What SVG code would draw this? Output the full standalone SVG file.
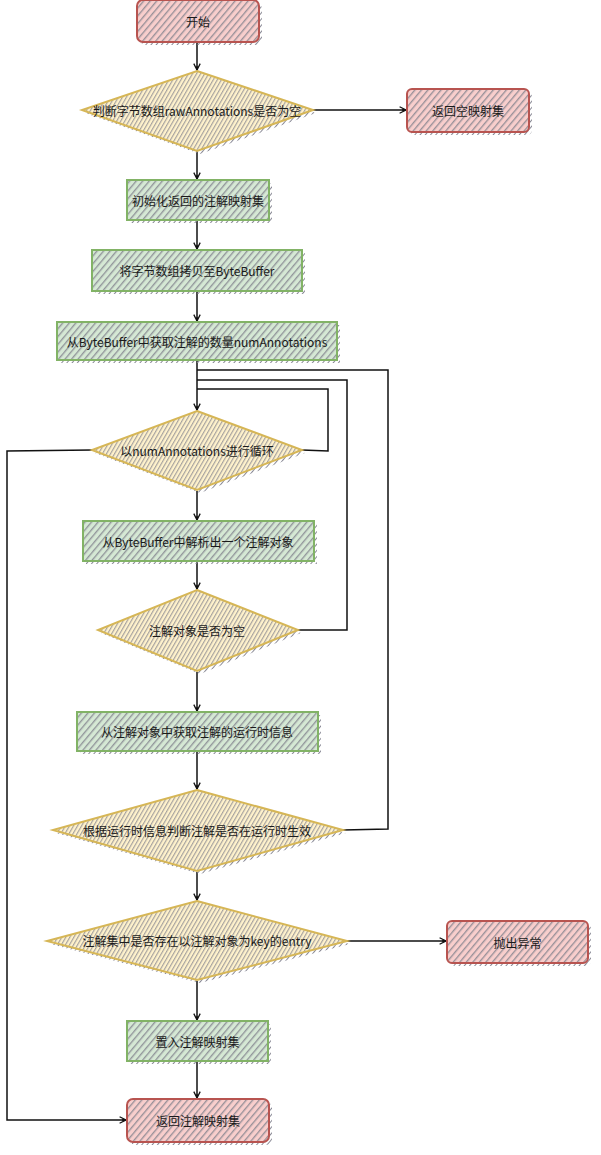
<svg xmlns="http://www.w3.org/2000/svg" width="601" height="1155" viewBox="0 0 601 1155">
<style>
text{font-family:"Noto Sans CJK SC","Liberation Sans",sans-serif;font-size:12px;fill:#1a1a1a;text-anchor:middle;dominant-baseline:central}
.red{fill:url(#hRed);stroke:#b85450;stroke-width:2}
.green{fill:url(#hGreen);stroke:#82b366;stroke-width:2}
.yellow{fill:url(#hYellow);stroke:#d6b656;stroke-width:2}
.shadow{fill:url(#hShadow);stroke:none}
.edge{fill:none;stroke:#111;stroke-width:1.5}
</style>
<defs>
<pattern id="hRed" width="5" height="5" patternUnits="userSpaceOnUse" patternTransform="rotate(40)">
<rect width="5" height="5" fill="#f8cecc"/><line x1="0.7" y1="0" x2="0.7" y2="5" stroke="#80808c" stroke-width="1.3" stroke-opacity="0.85"/></pattern>
<pattern id="hGreen" width="5" height="5" patternUnits="userSpaceOnUse" patternTransform="rotate(40)">
<rect width="5" height="5" fill="#d5e8d4"/><line x1="0.7" y1="0" x2="0.7" y2="5" stroke="#80808c" stroke-width="1.3" stroke-opacity="0.85"/></pattern>
<pattern id="hYellow" width="3.5" height="3.5" patternUnits="userSpaceOnUse" patternTransform="rotate(30)">
<rect width="3.5" height="3.5" fill="#fff2cc"/><line x1="0.6" y1="0" x2="0.6" y2="3.5" stroke="#80808c" stroke-width="1.1" stroke-opacity="0.75"/></pattern>
<pattern id="hShadow" width="4" height="4" patternUnits="userSpaceOnUse" patternTransform="rotate(40)">
<line x1="0.5" y1="0" x2="0.5" y2="4" stroke="#8a8a96" stroke-width="1"/></pattern>
<marker id="arr" viewBox="0 0 10 10" refX="9" refY="5" markerWidth="8" markerHeight="8" orient="auto-start-reverse" markerUnits="userSpaceOnUse">
<path d="M1,1 L9,5 L1,9 M9,5 L4,5" fill="none" stroke="#111" stroke-width="1.6"/></marker>
</defs>

<g id="connectors">
<path class="edge" marker-end="url(#arr)" d="M197,43 L197,70"/>
<path class="edge" marker-end="url(#arr)" d="M313,110 L406,110"/>
<path class="edge" marker-end="url(#arr)" d="M197,151 L197,179"/>
<path class="edge" marker-end="url(#arr)" d="M197,221 L197,249"/>
<path class="edge" marker-end="url(#arr)" d="M197,292 L197,321"/>
<path class="edge" marker-end="url(#arr)" d="M197,361 L197,410"/>
<path class="edge" d="M302,450 L328,451 L328,389 L197,389"/>
<path class="edge" d="M298,630 L347,630 L347,380 L197,380"/>
<path class="edge" d="M343,830 L388,829 L388,370 L197,370"/>
<path class="edge" marker-end="url(#arr)" d="M92,450 L7,451 L7,1120 L126,1120"/>
<path class="edge" marker-end="url(#arr)" d="M197,491 L197,520"/>
<path class="edge" marker-end="url(#arr)" d="M197,562 L197,589"/>
<path class="edge" marker-end="url(#arr)" d="M197,672 L197,711"/>
<path class="edge" marker-end="url(#arr)" d="M197,752 L197,789"/>
<path class="edge" marker-end="url(#arr)" d="M197,872 L197,900"/>
<path class="edge" marker-end="url(#arr)" d="M347,941 L446,941"/>
<path class="edge" marker-end="url(#arr)" d="M197,981 L197,1020"/>
<path class="edge" marker-end="url(#arr)" d="M197,1062 L197,1098"/>
</g>

<g id="start">
<rect class="shadow" x="140" y="3" width="122" height="42" rx="6"/>
<rect class="red" x="137" y="0" width="122" height="42" rx="6"/>
<text x="198" y="21">开始</text>
</g>

<g id="check-empty">
<polygon class="shadow" points="200,74 316,113 200,154 85,113"/>
<polygon class="yellow" points="197,71 313,110 197,151 82,110"/>
<text x="197" y="110">判断字节数组rawAnnotations是否为空</text>
</g>

<g id="return-empty">
<rect class="shadow" x="410" y="92" width="122" height="43" rx="5"/>
<rect class="red" x="407" y="89" width="122" height="43" rx="5"/>
<text x="468" y="110.5">返回空映射集</text>
</g>

<g id="init-map">
<rect class="shadow" x="130" y="183" width="142" height="40"/>
<rect class="green" x="127" y="180" width="142" height="40"/>
<text x="198" y="200">初始化返回的注解映射集</text>
</g>

<g id="copy-buffer">
<rect class="shadow" x="95" y="253" width="210" height="41"/>
<rect class="green" x="92" y="250" width="210" height="41"/>
<text x="197" y="270.5">将字节数组拷贝至ByteBuffer</text>
</g>

<g id="get-count">
<rect class="shadow" x="60" y="325" width="280" height="38"/>
<rect class="green" x="57" y="322" width="280" height="38"/>
<text x="197" y="341">从ByteBuffer中获取注解的数量numAnnotations</text>
</g>

<g id="loop">
<polygon class="shadow" points="200,414 305,453 200,493 95,453"/>
<polygon class="yellow" points="197,411 302,450 197,490 92,450"/>
<text x="197" y="450">以numAnnotations进行循环</text>
</g>

<g id="parse-annotation">
<rect class="shadow" x="86" y="524" width="231" height="40"/>
<rect class="green" x="83" y="521" width="231" height="40"/>
<text x="198" y="541">从ByteBuffer中解析出一个注解对象</text>
</g>

<g id="check-null">
<polygon class="shadow" points="200,593 301,633 200,674 101,633"/>
<polygon class="yellow" points="197,590 298,630 197,671 98,630"/>
<text x="197" y="630">注解对象是否为空</text>
</g>

<g id="get-runtime">
<rect class="shadow" x="80" y="715" width="241" height="39"/>
<rect class="green" x="77" y="712" width="241" height="39"/>
<text x="197" y="731.5">从注解对象中获取注解的运行时信息</text>
</g>

<g id="check-runtime">
<polygon class="shadow" points="200,793 346,833 200,874 56,833"/>
<polygon class="yellow" points="197,790 343,830 197,871 53,830"/>
<text x="197" y="830">根据运行时信息判断注解是否在运行时生效</text>
</g>

<g id="check-exists">
<polygon class="shadow" points="200,904 350,944 200,983 50,944"/>
<polygon class="yellow" points="197,901 347,941 197,980 47,941"/>
<text x="197" y="940">注解集中是否存在以注解对象为key的entry</text>
</g>

<g id="throw">
<rect class="shadow" x="450" y="924" width="141" height="42" rx="5"/>
<rect class="red" x="447" y="921" width="141" height="42" rx="5"/>
<text x="517.5" y="942">抛出异常</text>
</g>

<g id="put-map">
<rect class="shadow" x="130" y="1024" width="141" height="40"/>
<rect class="green" x="127" y="1021" width="141" height="40"/>
<text x="197.5" y="1041">置入注解映射集</text>
</g>

<g id="return-map">
<rect class="shadow" x="130" y="1102" width="142" height="43" rx="6"/>
<rect class="red" x="127" y="1099" width="142" height="43" rx="6"/>
<text x="198" y="1120.5">返回注解映射集</text>
</g>
</svg>
